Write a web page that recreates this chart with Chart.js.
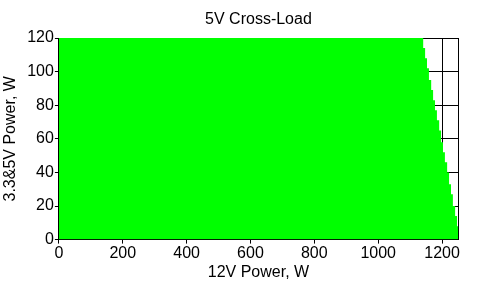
<!DOCTYPE html>
<html>
<head>
<meta charset="utf-8">
<script src="https://cdn.jsdelivr.net/npm/chart.js@4/dist/chart.umd.min.js"></script>
<style>
html,body{margin:0;padding:0;background:#fff;}
#wrap{width:487px;height:286px;position:relative;}
</style>
</head>
<body>
<div id="wrap"><canvas id="c"></canvas></div>
<script>
// 3.3&5V load levels (band tops, W) and the max 12V load (W) allowed in each band
const fiveVLevels = [120,114,108,102,95,89,83,77,71,65,58,52,46,40,33,27,20,14,8,2];
const maxTwelveV  = [1134,1141,1147,1153,1159,1166,1172,1178,1184,1191,1197,1203,1209,1216,1222,1228,1234,1241,1247,1253];
const xTicks = [0,200,400,600,800,1000,1200];
const yTicks = [0,20,40,60,80,100,120];
const titleText = '5V Cross-Load';
const xTitle = '12V Power, W';
const yTitle = '3.3&5V Power, W';

const pts = [{x:0, y:fiveVLevels[0]}];
for (let i = 0; i < fiveVLevels.length; i++) pts.push({x:maxTwelveV[i], y:fiveVLevels[i]});
pts.push({x:maxTwelveV[maxTwelveV.length-1], y:0});

const FONT = 'Liberation Sans, Arial, sans-serif';

const titlePlugin = {
  id:'areaTitle',
  afterDraw(chart){
    const ctx = chart.ctx, a = chart.chartArea;
    ctx.save();
    ctx.font = '16px ' + FONT;
    ctx.fillStyle = '#000';
    ctx.textAlign = 'center';
    ctx.textBaseline = 'middle';
    ctx.fillText(titleText, (a.left + a.right)/2, 20);
    ctx.restore();
  }
};

new Chart(document.getElementById('c'), {
  type:'scatter',
  data:{datasets:[{
    data:pts,
    showLine:true,
    stepped:true,
    fill:'origin',
    backgroundColor:'#00ff00',
    borderWidth:0,
    borderColor:'rgba(0,0,0,0)',
    pointRadius:0
  }]},
  options:{
    responsive:true,
    maintainAspectRatio:false,
    animation:false,
    layout:{padding:{top:38,right:29,left:1,bottom:4}},
    plugins:{legend:{display:false},tooltip:{enabled:false},title:{display:false}},
    scales:{
      x:{
        type:'linear', min:0, max:1250,
        afterBuildTicks(s){ s.ticks = xTicks.map(v=>({value:v})); },
        grid:{color:'#000', lineWidth:1, tickLength:4, tickColor:'#000'},
        border:{color:'#000', width:1},
        ticks:{color:'#000', font:{family:FONT, size:16}, padding:0, maxRotation:0, callback:v=>String(v)},
        title:{display:true, text:xTitle, color:'#000', font:{family:FONT, size:16}, padding:{top:0,bottom:0}}
      },
      y:{
        type:'linear', min:0, max:120,
        afterBuildTicks(s){ s.ticks = yTicks.map(v=>({value:v})); },
        grid:{color:'#000', lineWidth:1, tickLength:4, tickColor:'#000'},
        border:{color:'#000', width:1},
        ticks:{color:'#000', font:{family:FONT, size:16}, padding:1, callback:v=>String(v)},
        title:{display:true, text:yTitle, color:'#000', font:{family:FONT, size:16}, padding:{top:0,bottom:6}}
      },
      y2:{
        type:'linear', position:'right', min:0, max:120,
        grid:{display:false, drawTicks:false},
        border:{display:true, color:'#000', width:1},
        ticks:{display:false}
      }
    }
  },
  plugins:[titlePlugin]
});
</script>
</body>
</html>
